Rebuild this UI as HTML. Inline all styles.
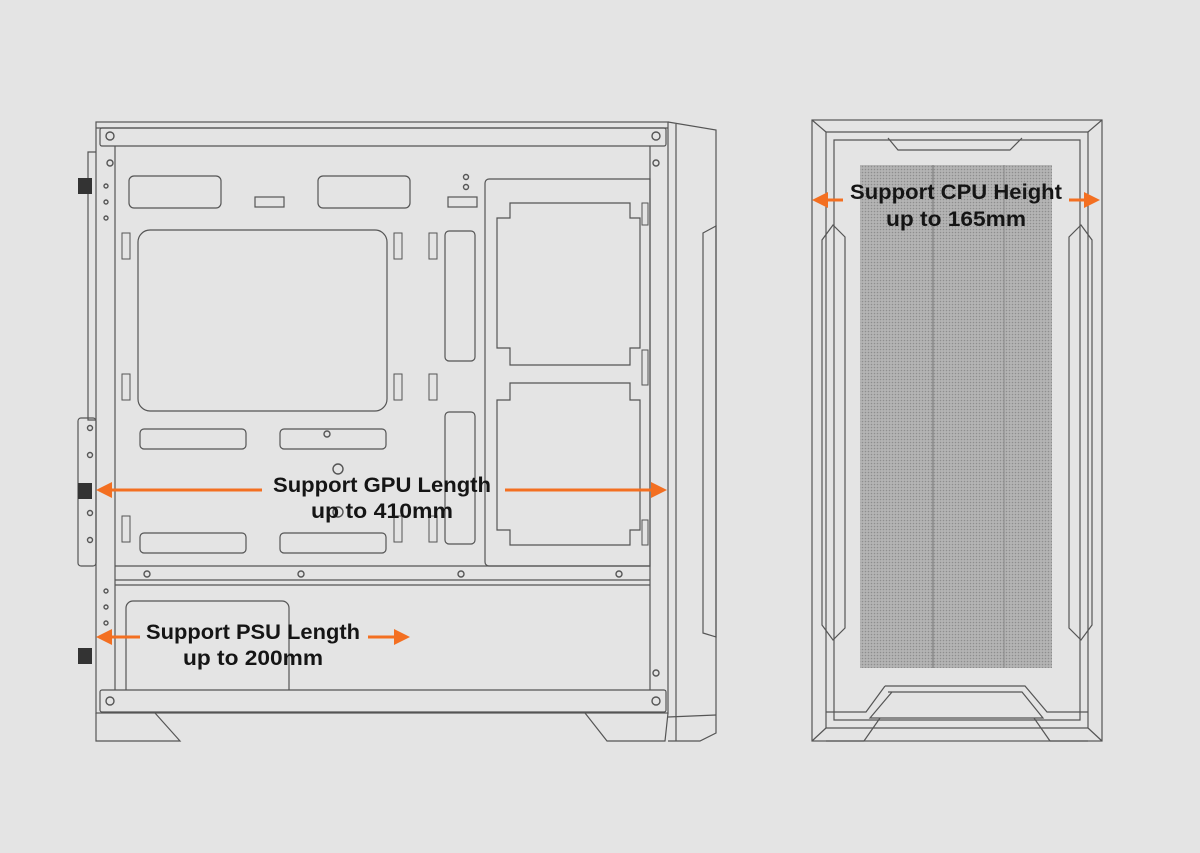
<!DOCTYPE html>
<html><head><meta charset="utf-8"><style>
html,body{margin:0;padding:0;background:#e4e4e4;}
svg{display:block;}
text{font-family:"Liberation Sans",sans-serif;font-size:21px;fill:#151515;font-weight:bold;}
</style></head><body>
<svg width="1200" height="853" viewBox="0 0 1200 853" xmlns="http://www.w3.org/2000/svg">
<defs>
<pattern id="mesh" width="3" height="3" patternUnits="userSpaceOnUse">
<rect width="3" height="3" fill="#b4b4b4"/><circle cx="1.5" cy="1.5" r="0.8" fill="#8e8e8e"/>
</pattern>
</defs>
<rect width="1200" height="853" fill="#e4e4e4"/>
<g fill="none" stroke="#555" stroke-width="1.2">
<!-- left case -->
<rect x="96" y="122" width="572" height="591"/>
<line x1="96" y1="128" x2="668" y2="128"/>
<rect x="100" y="128" width="566" height="18" rx="2"/>
<rect x="100" y="690" width="566" height="22" rx="2"/>
<line x1="115" y1="146" x2="115" y2="690"/>
<line x1="650" y1="146" x2="650" y2="690"/>
<line x1="115" y1="580" x2="650" y2="580"/>
<line x1="115" y1="585" x2="650" y2="585"/>
<line x1="115" y1="566" x2="650" y2="566"/>
<path d="M126 690 V608 a7 7 0 0 1 7 -7 H282 a7 7 0 0 1 7 7 V690"/>
<!-- feet -->
<path d="M96 713 V741 H180 L155 713"/>
<path d="M585 713 L607 741 H665 L668 713"/>
<path d="M668 122 L716 130 V733 L700 741 H668"/>
<line x1="676" y1="124" x2="676" y2="741"/>
<line x1="668" y1="717" x2="716" y2="715"/>
<path d="M703 233 L716 226 V637 L703 633 Z"/>
<!-- left side bracket -->
<path d="M96 152 H88 V420 H96"/>
<rect x="78" y="418" width="18" height="148" rx="3"/>
<!-- top cutouts -->
<rect x="129" y="176" width="92" height="32" rx="5"/>
<rect x="318" y="176" width="92" height="32" rx="5"/>
<rect x="138" y="230" width="249" height="181" rx="12"/>
<rect x="445" y="231" width="30" height="130" rx="4"/>
<rect x="445" y="412" width="30" height="132" rx="4"/>
<rect x="255" y="197" width="29" height="10"/>
<rect x="448" y="197" width="29" height="10"/>
<!-- right cage -->
<path d="M485 183 a4 4 0 0 1 4 -4 H650 V566 H489 a4 4 0 0 1 -4 -4 Z"/>
<path d="M510 203 H630 V218 H640 V348 H630 V365 H510 V348 H497 V218 H510 Z"/>
<path d="M510 383 H630 V400 H640 V530 H630 V545 H510 V530 H497 V400 H510 Z"/>
<!-- slot rectangles -->
<rect x="140" y="429" width="106" height="20" rx="4"/>
<rect x="280" y="429" width="106" height="20" rx="4"/>
<rect x="140" y="533" width="106" height="20" rx="4"/>
<rect x="280" y="533" width="106" height="20" rx="4"/>
<g stroke-width="1">
<rect x="122" y="233" width="8" height="26"/><rect x="122" y="374" width="8" height="26"/>
<rect x="394" y="233" width="8" height="26"/><rect x="394" y="374" width="8" height="26"/>
<rect x="429" y="233" width="8" height="26"/><rect x="429" y="374" width="8" height="26"/>
<rect x="122" y="516" width="8" height="26"/><rect x="394" y="516" width="8" height="26"/><rect x="429" y="516" width="8" height="26"/>
<rect x="642" y="203" width="6" height="22"/><rect x="642" y="350" width="6" height="35"/><rect x="642" y="520" width="6" height="25"/>
</g>
<g stroke-width="1.4">
<circle cx="110" cy="136" r="4"/><circle cx="656" cy="136" r="4"/>
<circle cx="110" cy="701" r="4"/><circle cx="656" cy="701" r="4"/>
<circle cx="110" cy="163" r="3"/><circle cx="656" cy="163" r="3"/><circle cx="656" cy="673" r="3"/>
<circle cx="147" cy="574" r="3"/><circle cx="301" cy="574" r="3"/><circle cx="461" cy="574" r="3"/><circle cx="619" cy="574" r="3"/>
<circle cx="338" cy="469" r="5"/><circle cx="338" cy="512" r="5"/><circle cx="327" cy="434" r="3"/>
<circle cx="106" cy="186" r="2"/><circle cx="106" cy="202" r="2"/><circle cx="106" cy="218" r="2"/>
<circle cx="106" cy="591" r="2"/><circle cx="106" cy="607" r="2"/><circle cx="106" cy="623" r="2"/>
<circle cx="90" cy="428" r="2.5"/><circle cx="90" cy="455" r="2.5"/><circle cx="90" cy="513" r="2.5"/><circle cx="90" cy="540" r="2.5"/>
<circle cx="466" cy="177" r="2.5"/><circle cx="466" cy="187" r="2.5"/>
</g>
<!-- front panel -->
<rect x="812" y="120" width="290" height="621"/>
<path d="M826 132 H1088 V728 H826 Z"/>
<path d="M834 140 H1080 V720 H834 Z"/>
<path d="M888 138 L898 150 H1010 L1022 138"/>
<line x1="812" y1="120" x2="826" y2="132"/><line x1="1102" y1="120" x2="1088" y2="132"/>
<line x1="812" y1="741" x2="826" y2="728"/><line x1="1102" y1="741" x2="1088" y2="728"/>
<path d="M833 225 L822 240 V625 L833 640 L845 628 V237 Z"/>
<path d="M1081 225 L1092 240 V625 L1081 640 L1069 628 V237 Z"/>
<path d="M885 686 H1025 L1047 712 L1088 712"/>
<path d="M885 686 L866 712 L826 712"/>
<path d="M888 692 H1022 L1043 718 H870 L892 692"/>
<line x1="826" y1="741" x2="864" y2="741"/><line x1="1050" y1="741" x2="1088" y2="741"/>
<line x1="864" y1="741" x2="880" y2="718"/><line x1="1050" y1="741" x2="1034" y2="718"/>
</g>
<rect x="860" y="165" width="192" height="503" fill="url(#mesh)"/>
<line x1="933" y1="165" x2="933" y2="668" stroke="#777"/>
<line x1="1004" y1="165" x2="1004" y2="668" stroke="#888"/>
<!-- handles -->
<rect x="78" y="178" width="14" height="16" fill="#333"/>
<rect x="78" y="483" width="14" height="16" fill="#333"/>
<rect x="78" y="648" width="14" height="16" fill="#333"/>
<!-- arrows -->
<g stroke="#f36f21" stroke-width="3" fill="#f36f21">
<line x1="262" y1="490" x2="108" y2="490"/><polygon points="96,490 112,482 112,498" stroke="none"/>
<line x1="505" y1="490" x2="655" y2="490"/><polygon points="667,490 651,482 651,498" stroke="none"/>
<line x1="140" y1="637" x2="108" y2="637"/><polygon points="96,637 112,629 112,645" stroke="none"/>
<line x1="368" y1="637" x2="398" y2="637"/><polygon points="410,637 394,629 394,645" stroke="none"/>
<line x1="843" y1="200" x2="824" y2="200"/><polygon points="812,200 828,192 828,208" stroke="none"/>
<line x1="1069" y1="200" x2="1088" y2="200"/><polygon points="1100,200 1084,192 1084,208" stroke="none"/>
</g>
<text x="382" y="492" text-anchor="middle" textLength="218" lengthAdjust="spacingAndGlyphs">Support GPU Length</text>
<text x="382" y="518" text-anchor="middle" textLength="142" lengthAdjust="spacingAndGlyphs">up to 410mm</text>
<text x="253" y="639" text-anchor="middle" textLength="214" lengthAdjust="spacingAndGlyphs">Support PSU Length</text>
<text x="253" y="665" text-anchor="middle" textLength="140" lengthAdjust="spacingAndGlyphs">up to 200mm</text>
<text x="956" y="199" text-anchor="middle" textLength="212" lengthAdjust="spacingAndGlyphs">Support CPU Height</text>
<text x="956" y="226" text-anchor="middle" textLength="140" lengthAdjust="spacingAndGlyphs">up to 165mm</text>
</svg>
</body></html>
